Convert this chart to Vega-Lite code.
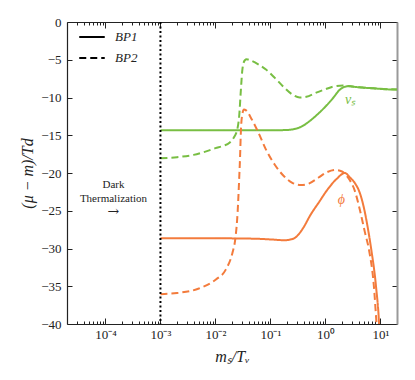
{
  "$schema": "https://vega.github.io/schema/vega-lite/v6.json",
  "width": 330,
  "height": 302,
  "autosize": {"type": "none"},
  "padding": {"left": 67, "top": 22, "right": 18, "bottom": 56},
  "background": "white",
  "config": {
    "view": {"stroke": null},
    "font": "Liberation Serif",
    "axis": {"grid": false, "labelFont": "Liberation Serif", "titleFont": "Liberation Serif", "labelColor": "#222", "domainColor": "#222", "tickColor": "#222", "labelFontSize": 12, "titleFontSize": 16, "titleFontWeight": "normal", "titleFontStyle": "italic", "titleColor": "#222"}
  },
  "datasets": {
    "curves": [
      {"x": 0.001, "y": -14.35, "sp": "nu", "bp": "BP1"},
      {"x": 0.01, "y": -14.35, "sp": "nu", "bp": "BP1"},
      {"x": 0.05, "y": -14.35, "sp": "nu", "bp": "BP1"},
      {"x": 0.1, "y": -14.35, "sp": "nu", "bp": "BP1"},
      {"x": 0.2, "y": -14.3, "sp": "nu", "bp": "BP1"},
      {"x": 0.3, "y": -14.1, "sp": "nu", "bp": "BP1"},
      {"x": 0.4, "y": -13.7, "sp": "nu", "bp": "BP1"},
      {"x": 0.5, "y": -13.2, "sp": "nu", "bp": "BP1"},
      {"x": 0.7, "y": -12.3, "sp": "nu", "bp": "BP1"},
      {"x": 1.0, "y": -11.2, "sp": "nu", "bp": "BP1"},
      {"x": 1.4, "y": -10.0, "sp": "nu", "bp": "BP1"},
      {"x": 1.8, "y": -9.0, "sp": "nu", "bp": "BP1"},
      {"x": 2.2, "y": -8.6, "sp": "nu", "bp": "BP1"},
      {"x": 2.6, "y": -8.5, "sp": "nu", "bp": "BP1"},
      {"x": 3.5, "y": -8.6, "sp": "nu", "bp": "BP1"},
      {"x": 5, "y": -8.7, "sp": "nu", "bp": "BP1"},
      {"x": 8, "y": -8.8, "sp": "nu", "bp": "BP1"},
      {"x": 12, "y": -8.9, "sp": "nu", "bp": "BP1"},
      {"x": 20, "y": -8.95, "sp": "nu", "bp": "BP1"},

      {"x": 0.001, "y": -18.05, "sp": "nu", "bp": "BP2"},
      {"x": 0.002, "y": -17.9, "sp": "nu", "bp": "BP2"},
      {"x": 0.004, "y": -17.6, "sp": "nu", "bp": "BP2"},
      {"x": 0.007, "y": -17.1, "sp": "nu", "bp": "BP2"},
      {"x": 0.01, "y": -16.7, "sp": "nu", "bp": "BP2"},
      {"x": 0.014, "y": -16.4, "sp": "nu", "bp": "BP2"},
      {"x": 0.018, "y": -16.0, "sp": "nu", "bp": "BP2"},
      {"x": 0.022, "y": -15.2, "sp": "nu", "bp": "BP2"},
      {"x": 0.025, "y": -14.2, "sp": "nu", "bp": "BP2"},
      {"x": 0.027, "y": -12.5, "sp": "nu", "bp": "BP2"},
      {"x": 0.029, "y": -9.0, "sp": "nu", "bp": "BP2"},
      {"x": 0.031, "y": -6.2, "sp": "nu", "bp": "BP2"},
      {"x": 0.034, "y": -5.1, "sp": "nu", "bp": "BP2"},
      {"x": 0.037, "y": -4.95, "sp": "nu", "bp": "BP2"},
      {"x": 0.042, "y": -5.05, "sp": "nu", "bp": "BP2"},
      {"x": 0.06, "y": -5.6, "sp": "nu", "bp": "BP2"},
      {"x": 0.083, "y": -6.3, "sp": "nu", "bp": "BP2"},
      {"x": 0.12, "y": -7.4, "sp": "nu", "bp": "BP2"},
      {"x": 0.168, "y": -8.5, "sp": "nu", "bp": "BP2"},
      {"x": 0.25, "y": -9.6, "sp": "nu", "bp": "BP2"},
      {"x": 0.34, "y": -10.0, "sp": "nu", "bp": "BP2"},
      {"x": 0.45, "y": -9.9, "sp": "nu", "bp": "BP2"},
      {"x": 0.68, "y": -9.35, "sp": "nu", "bp": "BP2"},
      {"x": 1.0, "y": -8.9, "sp": "nu", "bp": "BP2"},
      {"x": 1.38, "y": -8.56, "sp": "nu", "bp": "BP2"},
      {"x": 2.1, "y": -8.4, "sp": "nu", "bp": "BP2"},
      {"x": 3, "y": -8.55, "sp": "nu", "bp": "BP2"},
      {"x": 5, "y": -8.7, "sp": "nu", "bp": "BP2"},
      {"x": 10, "y": -8.85, "sp": "nu", "bp": "BP2"},
      {"x": 20, "y": -8.95, "sp": "nu", "bp": "BP2"},

      {"x": 0.001, "y": -28.65, "sp": "phi", "bp": "BP1"},
      {"x": 0.01, "y": -28.65, "sp": "phi", "bp": "BP1"},
      {"x": 0.05, "y": -28.7, "sp": "phi", "bp": "BP1"},
      {"x": 0.1, "y": -28.8, "sp": "phi", "bp": "BP1"},
      {"x": 0.18, "y": -28.9, "sp": "phi", "bp": "BP1"},
      {"x": 0.25, "y": -28.75, "sp": "phi", "bp": "BP1"},
      {"x": 0.3, "y": -28.4, "sp": "phi", "bp": "BP1"},
      {"x": 0.4, "y": -27.2, "sp": "phi", "bp": "BP1"},
      {"x": 0.52, "y": -25.7, "sp": "phi", "bp": "BP1"},
      {"x": 0.79, "y": -23.7, "sp": "phi", "bp": "BP1"},
      {"x": 1.04, "y": -22.4, "sp": "phi", "bp": "BP1"},
      {"x": 1.59, "y": -20.8, "sp": "phi", "bp": "BP1"},
      {"x": 2.25, "y": -20.0, "sp": "phi", "bp": "BP1"},
      {"x": 2.8, "y": -20.6, "sp": "phi", "bp": "BP1"},
      {"x": 3.4, "y": -21.3, "sp": "phi", "bp": "BP1"},
      {"x": 4.2, "y": -22.6, "sp": "phi", "bp": "BP1"},
      {"x": 5.0, "y": -24.6, "sp": "phi", "bp": "BP1"},
      {"x": 5.9, "y": -27.3, "sp": "phi", "bp": "BP1"},
      {"x": 6.8, "y": -30.1, "sp": "phi", "bp": "BP1"},
      {"x": 8.3, "y": -35.0, "sp": "phi", "bp": "BP1"},
      {"x": 9.45, "y": -40.0, "sp": "phi", "bp": "BP1"},
      {"x": 9.6, "y": -41.0, "sp": "phi", "bp": "BP1"},

      {"x": 0.001, "y": -36.05, "sp": "phi", "bp": "BP2"},
      {"x": 0.002, "y": -35.9, "sp": "phi", "bp": "BP2"},
      {"x": 0.005, "y": -35.3, "sp": "phi", "bp": "BP2"},
      {"x": 0.0102, "y": -34.1, "sp": "phi", "bp": "BP2"},
      {"x": 0.0154, "y": -32.8, "sp": "phi", "bp": "BP2"},
      {"x": 0.0205, "y": -30.5, "sp": "phi", "bp": "BP2"},
      {"x": 0.0229, "y": -28.8, "sp": "phi", "bp": "BP2"},
      {"x": 0.0253, "y": -25.2, "sp": "phi", "bp": "BP2"},
      {"x": 0.027, "y": -20.8, "sp": "phi", "bp": "BP2"},
      {"x": 0.028, "y": -18.0, "sp": "phi", "bp": "BP2"},
      {"x": 0.029, "y": -14.5, "sp": "phi", "bp": "BP2"},
      {"x": 0.0305, "y": -12.4, "sp": "phi", "bp": "BP2"},
      {"x": 0.033, "y": -11.6, "sp": "phi", "bp": "BP2"},
      {"x": 0.036, "y": -11.7, "sp": "phi", "bp": "BP2"},
      {"x": 0.045, "y": -12.8, "sp": "phi", "bp": "BP2"},
      {"x": 0.06, "y": -14.6, "sp": "phi", "bp": "BP2"},
      {"x": 0.083, "y": -16.9, "sp": "phi", "bp": "BP2"},
      {"x": 0.12, "y": -18.9, "sp": "phi", "bp": "BP2"},
      {"x": 0.18, "y": -20.5, "sp": "phi", "bp": "BP2"},
      {"x": 0.25, "y": -21.3, "sp": "phi", "bp": "BP2"},
      {"x": 0.36, "y": -21.6, "sp": "phi", "bp": "BP2"},
      {"x": 0.5, "y": -21.4, "sp": "phi", "bp": "BP2"},
      {"x": 0.75, "y": -20.6, "sp": "phi", "bp": "BP2"},
      {"x": 1.0, "y": -20.0, "sp": "phi", "bp": "BP2"},
      {"x": 1.48, "y": -19.6, "sp": "phi", "bp": "BP2"},
      {"x": 2.0, "y": -19.8, "sp": "phi", "bp": "BP2"},
      {"x": 2.4, "y": -20.3, "sp": "phi", "bp": "BP2"},
      {"x": 2.8, "y": -21.0, "sp": "phi", "bp": "BP2"},
      {"x": 3.4, "y": -22.3, "sp": "phi", "bp": "BP2"},
      {"x": 4.2, "y": -24.8, "sp": "phi", "bp": "BP2"},
      {"x": 5.2, "y": -27.8, "sp": "phi", "bp": "BP2"},
      {"x": 6.2, "y": -30.2, "sp": "phi", "bp": "BP2"},
      {"x": 7.6, "y": -35.0, "sp": "phi", "bp": "BP2"},
      {"x": 8.5, "y": -40.0, "sp": "phi", "bp": "BP2"},
      {"x": 8.7, "y": -41.0, "sp": "phi", "bp": "BP2"}
    ],
    "notes": [
      {"x": 0.00014, "y": -21.6, "t": "Dark"},
      {"x": 0.00014, "y": -23.4, "t": "Thermalization"}
    ],
    "arrow": [
      {"x": 0.00014, "y": -25.2, "t": "→"}
    ],
    "names": [
      {"x": 2.8, "y": -10.3, "t": "νₛ", "sp": "nu"},
      {"x": 1.95, "y": -23.6, "t": "ϕ", "sp": "phi"}
    ],
    "threshold": [{"x": 0.001}]
  },
  "layer": [
    {
      "data": {"name": "curves"},
      "mark": {"type": "line", "strokeWidth": 2, "clip": true, "interpolate": "monotone"},
      "encoding": {
        "x": {
          "field": "x", "type": "quantitative",
          "scale": {"type": "log", "domain": [0.00002, 20], "nice": false},
          "axis": {
            "orient": "bottom",
            "title": "mₛ/Tᵥ",
            "titlePadding": 4,
            "values": [0.00003,0.00004,0.00005,0.00006,0.00007,0.00008,0.00009,0.0001,0.0002,0.0003,0.0004,0.0005,0.0006,0.0007,0.0008,0.0009,0.001,0.002,0.003,0.004,0.005,0.006,0.007,0.008,0.009,0.01,0.02,0.03,0.04,0.05,0.06,0.07,0.08,0.09,0.1,0.2,0.3,0.4,0.5,0.6,0.7,0.8,0.9,1,2,3,4,5,6,7,8,9,10],
            "labelExpr": "abs(log(datum.value)/LN10 - round(log(datum.value)/LN10)) > 0.01 ? '' : round(log(datum.value)/LN10) == -4 ? '10⁻⁴' : round(log(datum.value)/LN10) == -3 ? '10⁻³' : round(log(datum.value)/LN10) == -2 ? '10⁻²' : round(log(datum.value)/LN10) == -1 ? '10⁻¹' : round(log(datum.value)/LN10) == 0 ? '10⁰' : round(log(datum.value)/LN10) == 1 ? '10¹' : ''",
            "labelOverlap": false,
            "labelFlush": false,
            "labelFont": "Liberation Serif",
            "labelFontSize": 13,
            "tickSize": {"condition": {"test": "abs(log(datum.value)/LN10 - round(log(datum.value)/LN10)) < 0.01", "value": -6}, "value": -3},
            "labelPadding": 10,
            "domainWidth": 1.2
          }
        },
        "y": {
          "field": "y", "type": "quantitative",
          "scale": {"domain": [-40, 0], "nice": false},
          "axis": {
            "orient": "left",
            "title": "(μ − m)/Td",
            "values": [-40, -35, -30, -25, -20, -15, -10, -5, 0],
            "labelFont": "Liberation Serif",
            "labelFontSize": 13,
            "tickSize": -5,
            "labelPadding": 11,
            "titlePadding": 5,
            "domainWidth": 1.2
          }
        },
        "color": {
          "field": "sp", "type": "nominal",
          "scale": {"domain": ["nu", "phi"], "range": ["#78BE43", "#F37B3C"]},
          "legend": null
        },
        "strokeDash": {
          "field": "bp", "type": "nominal",
          "scale": {"domain": ["BP1", "BP2"], "range": [[1, 0], [7, 4]]},
          "legend": {
            "title": null,
            "orient": "none",
            "legendX": 11,
            "legendY": 1,
            "padding": 0,
            "symbolType": "stroke",
            "symbolStrokeColor": "black",
            "symbolStrokeWidth": 2,
            "symbolSize": 650,
            "labelFont": "Liberation Serif",
            "labelFontStyle": "italic",
            "labelFontSize": 13,
            "labelColor": "#222",
            "labelOffset": 9,
            "rowPadding": -8
          }
        }
      }
    },
    {
      "data": {"name": "threshold"},
      "mark": {"type": "rule", "color": "black", "strokeWidth": 2, "strokeDash": [2, 2.5]},
      "encoding": {
        "x": {"field": "x", "type": "quantitative", "scale": {"type": "log", "domain": [0.00002, 20], "nice": false}, "axis": null}
      }
    },
    {
      "data": {"name": "notes"},
      "mark": {"type": "text", "font": "Liberation Serif", "fontSize": 11, "color": "#222"},
      "encoding": {
        "x": {
          "field": "x", "type": "quantitative",
          "scale": {"type": "log", "domain": [0.00002, 20], "nice": false},
          "axis": {
            "orient": "top",
            "title": null,
            "labels": false,
            "values": [0.00003,0.00004,0.00005,0.00006,0.00007,0.00008,0.00009,0.0001,0.0002,0.0003,0.0004,0.0005,0.0006,0.0007,0.0008,0.0009,0.001,0.002,0.003,0.004,0.005,0.006,0.007,0.008,0.009,0.01,0.02,0.03,0.04,0.05,0.06,0.07,0.08,0.09,0.1,0.2,0.3,0.4,0.5,0.6,0.7,0.8,0.9,1,2,3,4,5,6,7,8,9,10],
            "tickSize": {"condition": {"test": "abs(log(datum.value)/LN10 - round(log(datum.value)/LN10)) < 0.01", "value": -6}, "value": -3},
            "domainWidth": 1.2
          }
        },
        "y": {
          "field": "y", "type": "quantitative",
          "scale": {"domain": [-40, 0], "nice": false},
          "axis": {
            "orient": "right",
            "title": null,
            "labels": false,
            "values": [-40, -35, -30, -25, -20, -15, -10, -5, 0],
            "tickSize": -5,
            "domainColor": "#999",
            "domainWidth": 2
          }
        },
        "text": {"field": "t"}
      }
    },
    {
      "data": {"name": "arrow"},
      "mark": {"type": "text", "font": "DejaVu Serif", "fontSize": 14, "color": "#222"},
      "encoding": {
        "x": {"field": "x", "type": "quantitative", "scale": {"type": "log", "domain": [0.00002, 20], "nice": false}, "axis": null},
        "y": {"field": "y", "type": "quantitative", "scale": {"domain": [-40, 0], "nice": false}, "axis": null},
        "text": {"field": "t"}
      }
    },
    {
      "data": {"name": "names"},
      "mark": {"type": "text", "font": "Liberation Serif", "fontSize": 14, "fontStyle": "italic"},
      "encoding": {
        "x": {"field": "x", "type": "quantitative", "scale": {"type": "log", "domain": [0.00002, 20], "nice": false}, "axis": null},
        "y": {"field": "y", "type": "quantitative", "scale": {"domain": [-40, 0], "nice": false}, "axis": null},
        "text": {"field": "t"},
        "color": {"field": "sp", "type": "nominal", "legend": null}
      }
    }
  ],
  "resolve": {"axis": {"x": "independent", "y": "independent"}}
}
